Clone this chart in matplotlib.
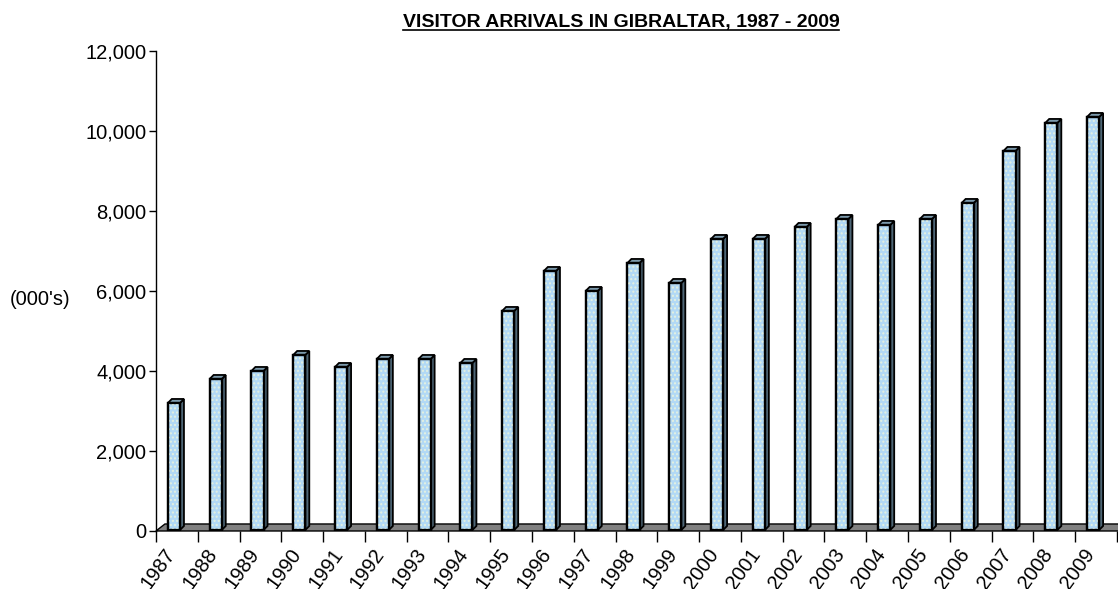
import numpy as np
import matplotlib
matplotlib.use("Agg")
import matplotlib.pyplot as plt
import matplotlib.transforms as mtransforms
from matplotlib.patches import Polygon
from matplotlib.ticker import FuncFormatter

years = [str(y) for y in range(1987, 2010)]
arrivals = [3200, 3800, 4000, 4400, 4100, 4300, 4300, 4200, 5500, 6500, 6000,
            6700, 6200, 7300, 7300, 7600, 7800, 7650, 7800, 8200, 9500, 10200, 10350]

plt.rcParams['font.family'] = ['Liberation Sans', 'DejaVu Sans']

fig = plt.figure(figsize=(11.18, 5.89), dpi=100)
ax = fig.add_axes([0.1395, 0.0985, 0.8595, 0.815])

n = len(years)
x = np.arange(n) - 0.07
w = 0.29
# 3D depth offsets in data units (bars and floor)
bdx, bdy = 0.095, 100
fdx, fdy = 0.215, 175

ax.set_xlim(-0.5, n - 0.5)
ax.set_ylim(0, 12000)

# floor
floor = Polygon([(-0.5, 0), (n - 0.5 + 0.3, 0), (n - 0.5 + 0.3 + fdx, fdy), (-0.5 + fdx, fdy)],
                closed=True, facecolor='#808080', edgecolor='black', lw=1, clip_on=False, zorder=1)
ax.add_patch(floor)

front = '#b2d9f5'
side = '#4e6676'
top = '#7c9aac'
for xi, v in zip(x, arrivals):
    l, r = xi - w / 2, xi + w / 2
    ax.add_patch(Polygon([(r, 25), (r + bdx, 25 + bdy), (r + bdx, v + bdy), (r, v)],
                         facecolor=side, edgecolor='black', lw=1.3, zorder=3, clip_on=False))
    ax.add_patch(Polygon([(l, v), (l + bdx, v + bdy), (r + bdx, v + bdy), (r, v)],
                         facecolor=top, edgecolor='black', lw=1.3, zorder=3, clip_on=False))

ax.bar(x, np.array(arrivals) - 25, bottom=25, width=w, color=front, edgecolor='black',
       linewidth=1.6, zorder=4)
ax.bar(x, np.array(arrivals) - 25, bottom=25, width=w, color='none', edgecolor='#e4f1e0',
       hatch='....', linewidth=0, zorder=4)
ax.bar(x, np.array(arrivals) - 25, bottom=25, width=w, color='none', edgecolor='black',
       linewidth=1.6, zorder=5)

for s in ['top', 'right', 'bottom']:
    ax.spines[s].set_visible(False)
ax.spines['left'].set_linewidth(1)

ax.set_yticks(range(0, 12001, 2000))
ax.yaxis.set_major_formatter(FuncFormatter(lambda v, p: f"{int(v):,}"))
ax.tick_params(axis='y', length=5, width=1, labelsize=14.5, pad=2)

ax.set_xticks(np.arange(n))
ax.set_xticklabels(years, rotation=54, ha='right', va='center', rotation_mode='anchor',
                   fontsize=14.5)
ax.set_xticks(np.arange(n + 1) - 0.5, minor=True)
ax.tick_params(axis='x', which='major', length=0, pad=14)
ax.tick_params(axis='x', which='minor', length=8, width=1)
shift = mtransforms.ScaledTranslation(-5 / 100, 0, fig.dpi_scale_trans)
for lab in ax.get_xticklabels():
    lab.set_transform(lab.get_transform() + shift)

fig.text(0.009, 0.492, "(000's)", fontsize=14.5, ha='left', va='center')
t = fig.text(0.5555, 0.962, "VISITOR ARRIVALS IN GIBRALTAR, 1987 - 2009", fontsize=14,
             fontweight='bold', ha='center', va='center')
fig.canvas.draw()
bb = t.get_window_extent()
fig.add_artist(plt.Line2D([bb.x0, bb.x1], [bb.y0 + 1, bb.y0 + 1], transform=None,
                          color='black', lw=1.2))

fig.savefig('out.png', dpi=100)
